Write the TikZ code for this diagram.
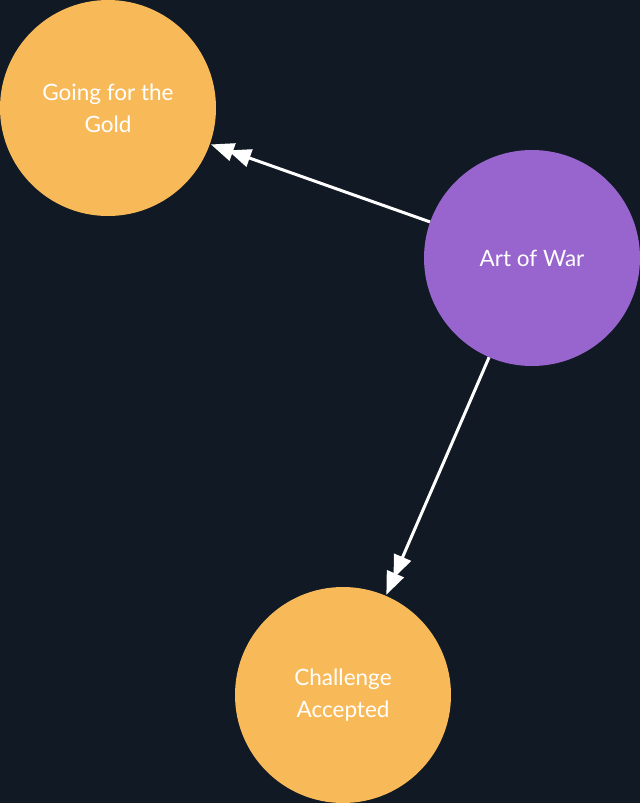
\documentclass[tikz,border=0pt]{standalone}
\usepackage{fontspec}
\setmainfont{Lato}
\usetikzlibrary{arrows.meta}
\definecolor{bg}{RGB}{17,25,36}
\definecolor{gold}{RGB}{248,186,88}
\definecolor{violet}{RGB}{152,101,206}
\tikzset{
  topic/.style={circle, minimum size=216pt, inner sep=0pt, text=white, align=center,
    font=\fontsize{22.5pt}{32pt}\selectfont},
  link/.style={draw=white, line width=3pt,
    -{Triangle[length=23pt,width=18pt,sep=-5pt]Triangle[length=23pt,width=18pt]}, shorten >=1pt}
}
\begin{document}
\begin{tikzpicture}[x=1pt,y=-1pt]
\fill[bg] (0,0) rectangle (640,803);
\useasboundingbox (0,0) rectangle (640,803);
\node[topic, fill=gold] (gold) at (108,108) {Going for the\\Gold};
\node[topic, fill=violet] (war) at (532,258) {Art of War};
\node[topic, fill=gold] (chal) at (343,695) {Challenge\\Accepted};
\draw[link] (war) -- (gold);
\draw[link] (war) -- (chal);
\end{tikzpicture}
\end{document}
